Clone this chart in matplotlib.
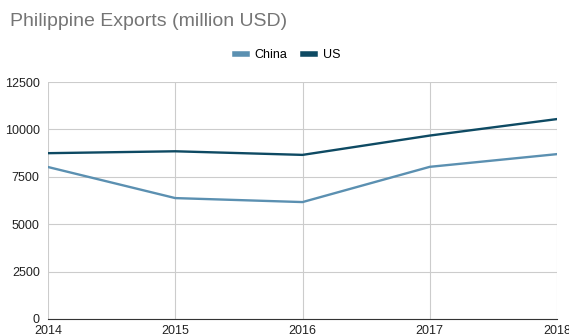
import matplotlib.pyplot as plt
from matplotlib.lines import Line2D

years = [2014, 2015, 2016, 2017, 2018]
china = [8020, 6380, 6170, 8030, 8700]
us = [8750, 8850, 8660, 9680, 10550]

plt.rcParams["font.family"] = ["Liberation Sans", "DejaVu Sans"]

fig = plt.figure(figsize=(5.69, 3.36), dpi=100)
ax = fig.add_axes([0.0844, 0.0506, 0.8946, 0.705])

ax.plot(years, china, color="#5b90b1", linewidth=1.7, label="China")
ax.plot(years, us, color="#0e4a63", linewidth=1.7, label="US")

ax.set_xlim(2014, 2018)
ax.set_ylim(0, 12500)
ax.set_xticks(years)
ax.set_yticks([0, 2500, 5000, 7500, 10000, 12500])
ax.grid(True, color="#cccccc", linewidth=0.8)
ax.set_axisbelow(True)
for s in ["top", "right", "left"]:
    ax.spines[s].set_visible(False)
ax.spines["bottom"].set_color("#333333")
ax.tick_params(length=0, labelsize=9, colors="#222222")
ax.tick_params(axis="x", pad=4)
ax.tick_params(axis="y", pad=6)

fig.text(0.0176, 0.935, "Philippine Exports (million USD)", fontsize=14,
         color="#757575", va="center", ha="left")

# legend with short thick swatches, like the original
handles = [Line2D([0], [0], color="#5b90b1", linewidth=4),
           Line2D([0], [0], color="#0e4a63", linewidth=4)]
fig.legend(handles, ["China", "US"], loc="center", bbox_to_anchor=(0.505, 0.835),
           ncol=2, frameon=False, fontsize=9, handlelength=1.0,
           columnspacing=1.2, handletextpad=0.6)

fig.savefig("out.png", dpi=100)
